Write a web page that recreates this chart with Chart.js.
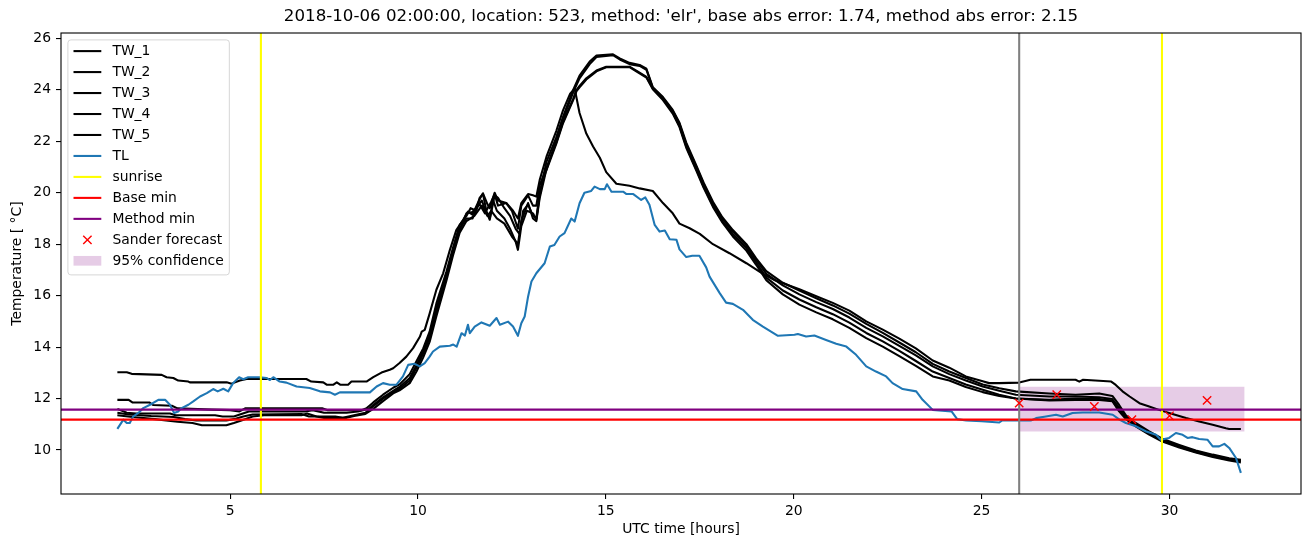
<!DOCTYPE html>
<html>
<head>
<meta charset="utf-8">
<script src="https://cdn.jsdelivr.net/npm/chart.js@4.4.0/dist/chart.umd.min.js"></script>
<style>
  html, body { margin: 0; padding: 0; background: #fff; }
  canvas { display: block; }
</style>
</head>
<body>
<canvas id="graph" width="1311" height="547"></canvas>
<script>
// ---------- values ----------
const chartTitle = "2018-10-06 02:00:00, location: 523, method: 'elr', base abs error: 1.74, method abs error: 2.15";

const xTicks = [5, 10, 15, 20, 25, 30];
const yTicks = [10, 12, 14, 16, 18, 20, 22, 24, 26];

// TW_1
const tw1Hours = [
  2.0, 2.25, 2.38, 3.18, 3.31, 3.49, 3.62, 3.89, 3.93, 4.91,
  5.04, 5.26, 5.44, 7.03, 7.16, 7.48, 7.57, 7.75, 7.84, 7.93,
  8.14, 8.23, 8.63, 8.81, 9.03, 9.25, 9.34, 9.51, 9.69, 9.87,
  10.05, 10.1, 10.18, 10.31, 10.49, 10.67, 10.85, 11.02, 11.2, 11.33,
  11.45, 11.64, 11.73, 11.85, 11.91, 12.04, 12.13, 12.35, 12.53, 12.66,
  12.75, 12.93, 13.06, 13.15, 13.24, 13.42, 13.68, 13.86, 14.05, 14.17,
  14.3, 14.48, 14.66, 14.84, 15.01, 15.28, 15.63, 15.9, 16.25, 16.52,
  16.78, 16.96, 17.23, 17.5, 17.85, 18.29, 18.74, 19.18, 19.5, 20.15,
  20.6, 21.04, 21.48, 21.93, 22.37, 22.81, 23.25, 23.7, 24.14, 24.58,
  25.03, 25.2, 25.47, 26.0, 26.3, 27.5, 27.6, 27.7, 28.45, 28.57,
  28.75, 28.94, 29.2, 29.46, 29.72, 30.08, 30.44, 30.79, 31.15, 31.5,
  31.59, 31.9
];
const tw1Temp = [
  13.02, 13.02, 12.96, 12.92, 12.83, 12.8, 12.7, 12.66, 12.63, 12.63,
  12.58, 12.7, 12.76, 12.76, 12.66, 12.63, 12.54, 12.54, 12.63, 12.54,
  12.54, 12.66, 12.66, 12.83, 13.01, 13.12, 13.18, 13.38, 13.63, 13.96,
  14.4, 14.6, 14.67, 15.3, 16.23, 16.87, 17.78, 18.55, 18.94, 19.27,
  19.15, 19.75, 19.98, 19.55, 19.4, 20.0, 19.7, 19.6, 19.3, 19.0,
  19.6, 19.95, 19.9, 19.85, 20.5, 21.4, 22.4, 23.2, 23.85, 24.05,
  23.1, 22.3, 21.8, 21.36, 20.8, 20.35, 20.27, 20.17, 20.07, 19.6,
  19.2, 18.8, 18.62, 18.4, 18.0, 17.65, 17.26, 16.85, 16.6, 16.25,
  15.98, 15.72, 15.42, 15.0, 14.68, 14.33, 13.95, 13.48, 13.2, 12.86,
  12.67, 12.6, 12.6, 12.62, 12.73, 12.73, 12.66, 12.73, 12.66, 12.53,
  12.28, 12.08, 11.82, 11.69, 11.56, 11.4, 11.24, 11.11, 10.98, 10.85,
  10.82, 10.82
];

// TW_2
const tw2Hours = [
  2.0, 2.3, 2.4, 2.85, 2.95, 3.45, 3.6, 4.5, 5.0, 5.25,
  5.4, 7.45, 7.6, 8.5, 8.63, 8.81, 9.07, 9.34, 9.51, 9.78,
  9.96, 10.14, 10.31, 10.49, 10.76, 10.93, 11.11, 11.29, 11.4, 11.55,
  11.64, 11.73, 11.82, 11.91, 12.04, 12.13, 12.3, 12.45, 12.6, 12.7,
  12.8, 12.93, 13.06, 13.15, 13.24, 13.42, 13.68, 13.86, 14.13, 14.3,
  14.57, 14.75, 15.19, 15.37, 15.63, 15.9, 16.08, 16.25, 16.52, 16.78,
  16.96, 17.14, 17.41, 17.6, 17.85, 18.1, 18.38, 18.74, 19.0, 19.27,
  19.71, 20.15, 20.6, 21.04, 21.48, 21.93, 22.37, 22.81, 23.25, 23.7,
  24.14, 24.58, 25.03, 25.47, 25.91, 26.8, 27.5, 28.13, 28.48, 28.66,
  28.84, 29.1, 29.46, 29.81, 30.26, 30.7, 31.15, 31.59, 31.9
];
const tw2Temp = [
  11.95, 11.95, 11.85, 11.85, 11.75, 11.72, 11.62, 11.57, 11.55, 11.5,
  11.62, 11.62, 11.55, 11.55, 11.62, 11.85, 12.15, 12.42, 12.55, 12.95,
  13.45, 13.95, 14.6, 15.7, 16.95, 17.85, 18.75, 19.1, 19.4, 19.3,
  19.8, 19.95, 19.3, 18.95, 19.9, 19.8, 19.4, 19.1, 18.6, 18.4,
  19.3, 19.55, 19.1, 19.0, 20.0, 21.2, 22.15, 22.95, 24.0, 24.55,
  25.1, 25.33, 25.38, 25.22, 25.05, 24.97, 24.82, 24.1, 23.72, 23.22,
  22.72, 21.95, 21.05, 20.4, 19.65, 19.05, 18.55, 18.0, 17.45, 16.95,
  16.5, 16.2, 15.9, 15.62, 15.3, 14.9, 14.55, 14.18, 13.8, 13.35,
  13.05, 12.8, 12.55, 12.4, 12.28, 12.2, 12.15, 12.2, 12.1, 11.75,
  11.35, 11.05, 10.72, 10.44, 10.2, 9.98, 9.82, 9.68, 9.62
];

// TW_3
const tw3Hours = [
  2.0, 2.25, 2.5, 3.4, 3.55, 4.6, 4.8, 5.1, 5.3, 5.5,
  7.0, 7.2, 7.5, 8.1, 8.4, 8.7, 8.81, 9.07, 9.34, 9.51,
  9.78, 9.96, 10.14, 10.31, 10.49, 10.76, 10.93, 11.11, 11.29, 11.45,
  11.6, 11.7, 11.82, 11.91, 12.0, 12.1, 12.3, 12.45, 12.6, 12.66,
  12.75, 12.9, 13.06, 13.15, 13.24, 13.35, 13.68, 13.86, 14.13, 14.3,
  14.57, 14.75, 15.19, 15.37, 15.63, 15.9, 16.08, 16.25, 16.52, 16.78,
  16.96, 17.14, 17.41, 17.6, 17.85, 18.1, 18.38, 18.74, 19.0, 19.27,
  19.71, 20.15, 20.6, 21.04, 21.48, 21.93, 22.37, 22.81, 23.25, 23.7,
  24.14, 24.58, 25.03, 25.47, 25.91, 26.8, 27.5, 28.13, 28.48, 28.66,
  28.84, 29.1, 29.46, 29.81, 30.26, 30.7, 31.15, 31.59, 31.9
];
const tw3Temp = [
  11.6, 11.45, 11.42, 11.42, 11.35, 11.35, 11.3, 11.3, 11.4, 11.5,
  11.5, 11.55, 11.45, 11.45, 11.5, 11.6, 11.75, 12.05, 12.3, 12.45,
  12.8, 13.3, 13.85, 14.45, 15.5, 16.8, 17.7, 18.6, 19.0, 19.0,
  19.5, 19.7, 19.2, 19.0, 19.7, 19.3, 19.0, 18.6, 18.1, 17.78,
  18.7, 19.3, 19.2, 18.95, 19.9, 20.6, 22.05, 22.85, 23.9, 24.45,
  25.0, 25.28, 25.35, 25.18, 25.0, 24.93, 24.78, 24.08, 23.68, 23.18,
  22.68, 21.88, 21.0, 20.35, 19.6, 19.0, 18.5, 17.95, 17.4, 16.85,
  16.4, 16.05, 15.75, 15.48, 15.15, 14.75, 14.42, 14.05, 13.68, 13.25,
  12.95, 12.7, 12.47, 12.3, 12.15, 12.08, 12.08, 12.05, 11.98, 11.65,
  11.3, 11.0, 10.68, 10.4, 10.16, 9.95, 9.79, 9.65, 9.6
];

// TW_4
const tw4Hours = [
  2.0, 2.3, 2.9, 3.5, 3.8, 4.1, 4.9, 5.1, 5.35, 5.6,
  6.9, 7.1, 7.8, 8.0, 8.3, 8.6, 8.81, 9.07, 9.34, 9.51,
  9.78, 9.96, 10.14, 10.31, 10.49, 10.76, 10.93, 11.11, 11.29, 11.45,
  11.64, 11.78, 11.95, 12.04, 12.13, 12.35, 12.5, 12.66, 12.75, 12.93,
  13.06, 13.15, 13.24, 13.35, 13.68, 13.86, 14.13, 14.22, 14.3, 14.48,
  14.75, 15.01, 15.63, 15.81, 16.08, 16.25, 16.52, 16.78, 16.96, 17.14,
  17.41, 17.6, 17.85, 18.1, 18.38, 18.74, 19.0, 19.27, 19.71, 20.15,
  20.6, 21.04, 21.48, 21.93, 22.37, 22.81, 23.25, 23.7, 24.14, 24.58,
  25.03, 25.47, 25.91, 26.8, 27.5, 28.13, 28.48, 28.66, 28.84, 29.1,
  29.46, 29.81, 30.26, 30.7, 31.15, 31.59, 31.9
];
const tw4Temp = [
  11.45, 11.38, 11.32, 11.28, 11.2, 11.15, 11.15, 11.2, 11.3, 11.38,
  11.4, 11.3, 11.3, 11.25, 11.35, 11.45, 11.7, 12.0, 12.25, 12.38,
  12.7, 13.2, 13.75, 14.35, 15.4, 16.75, 17.65, 18.55, 19.2, 19.25,
  19.55, 19.2, 19.65, 19.95, 19.5, 19.6, 19.3, 18.6, 19.5, 19.9,
  19.5, 19.5, 20.3, 20.7, 21.95, 22.75, 23.65, 24.0, 24.15, 24.45,
  24.75, 24.9, 24.9, 24.75, 24.5, 24.05, 23.65, 23.12, 22.6, 21.8,
  20.9, 20.25, 19.5, 18.9, 18.4, 17.85, 17.3, 16.7, 16.2, 15.85,
  15.55, 15.28, 14.95, 14.55, 14.22, 13.85, 13.46, 13.05, 12.8, 12.55,
  12.34, 12.15, 12.0, 11.95, 12.0, 11.98, 11.92, 11.55, 11.25, 10.95,
  10.64, 10.36, 10.13, 9.92, 9.76, 9.62, 9.56
];

// TW_5
const tw5Hours = [
  2.0, 2.4, 3.0, 3.6, 4.0, 4.25, 4.9, 5.1, 5.3, 5.6,
  5.9, 6.9, 7.05, 7.3, 7.5, 8.1, 8.3, 8.6, 8.81, 9.07,
  9.34, 9.51, 9.78, 9.96, 10.14, 10.31, 10.49, 10.76, 10.93, 11.11,
  11.29, 11.5, 11.7, 11.85, 11.95, 12.1, 12.3, 12.5, 12.66, 12.75,
  12.93, 13.06, 13.15, 13.24, 13.4, 13.68, 13.86, 14.13, 14.22, 14.3,
  14.48, 14.75, 15.01, 15.63, 15.81, 16.08, 16.25, 16.52, 16.78, 16.96,
  17.14, 17.41, 17.6, 17.85, 18.1, 18.38, 18.74, 19.0, 19.27, 19.71,
  20.15, 20.6, 21.04, 21.48, 21.93, 22.37, 22.81, 23.25, 23.7, 24.14,
  24.58, 25.03, 25.47, 25.91, 26.8, 27.5, 28.13, 28.48, 28.66, 28.84,
  29.1, 29.46, 29.81, 30.26, 30.7, 31.15, 31.59, 31.9
];
const tw5Temp = [
  11.35, 11.28, 11.2, 11.1, 11.05, 10.96, 10.96, 11.05, 11.15, 11.3,
  11.35, 11.35, 11.42, 11.3, 11.25, 11.25, 11.32, 11.4, 11.6, 11.9,
  12.2, 12.32, 12.6, 13.05, 13.6, 14.2, 15.2, 16.6, 17.55, 18.45,
  18.9, 19.1, 19.5, 19.1, 19.3, 19.0, 18.8, 18.3, 18.0, 18.9,
  19.6, 19.0, 18.9, 19.8, 20.8, 21.9, 22.7, 23.6, 23.95, 24.1,
  24.4, 24.72, 24.88, 24.88, 24.72, 24.48, 24.02, 23.6, 23.08, 22.55,
  21.75, 20.85, 20.2, 19.45, 18.85, 18.3, 17.75, 17.2, 16.6, 16.05,
  15.65, 15.35, 15.08, 14.75, 14.35, 14.02, 13.65, 13.27, 12.86, 12.7,
  12.45, 12.25, 12.1, 12.0, 11.93, 11.95, 11.95, 11.9, 11.5, 11.2,
  10.92, 10.6, 10.33, 10.1, 9.9, 9.73, 9.59, 9.52
];

// TL (air temperature)
const tlHours = [
  2.0, 2.16, 2.25, 2.33, 2.42, 2.56, 2.69, 2.87, 3.09, 3.27,
  3.4, 3.51, 3.62, 3.71, 3.89, 4.02, 4.2, 4.38, 4.55, 4.67,
  4.82, 4.95, 5.08, 5.24, 5.35, 5.48, 5.79, 5.97, 6.06, 6.15,
  6.32, 6.5, 6.77, 7.12, 7.39, 7.66, 7.79, 7.92, 8.72, 8.9,
  9.07, 9.25, 9.43, 9.6, 9.74, 9.91, 10.05, 10.18, 10.31, 10.4,
  10.58, 10.85, 10.94, 11.03, 11.16, 11.25, 11.33, 11.38, 11.51, 11.69,
  11.91, 12.09, 12.18, 12.4, 12.53, 12.66, 12.75, 12.84, 12.93, 13.02,
  13.15, 13.37, 13.51, 13.63, 13.77, 13.9, 14.08, 14.17, 14.3, 14.43,
  14.61, 14.7, 14.84, 14.97, 15.03, 15.15, 15.46, 15.55, 15.73, 15.94,
  16.05, 16.16, 16.3, 16.43, 16.57, 16.7, 16.88, 16.96, 17.14, 17.3,
  17.49, 17.67, 17.76, 18.03, 18.2, 18.38, 18.65, 18.91, 19.18, 19.58,
  20.02, 20.11, 20.33, 20.55, 20.86, 21.13, 21.4, 21.66, 21.93, 22.19,
  22.46, 22.63, 22.9, 23.26, 23.43, 23.7, 24.2, 24.35, 24.59, 25.0,
  25.47, 25.55, 26.32, 26.45, 26.71, 26.98, 27.16, 27.42, 27.69, 28.13,
  28.49, 28.67, 28.84, 29.11, 29.38, 29.64, 29.77, 29.99, 30.17, 30.35,
  30.48, 30.61, 30.79, 31.01, 31.15, 31.32, 31.46, 31.59, 31.77, 31.9
];
const tlTemp = [
  10.82, 11.18, 11.05, 11.05, 11.3, 11.44, 11.63, 11.76, 11.95, 11.95,
  11.76, 11.44, 11.5, 11.63, 11.76, 11.89, 12.08, 12.21, 12.37, 12.28,
  12.38, 12.28, 12.6, 12.83, 12.75, 12.83, 12.83, 12.8, 12.72, 12.83,
  12.66, 12.62, 12.47, 12.41, 12.28, 12.24, 12.15, 12.24, 12.24, 12.47,
  12.6, 12.54, 12.54, 12.86, 13.31, 13.35, 13.25, 13.38, 13.63, 13.83,
  14.02, 14.05, 14.1, 14.02, 14.54, 14.45, 14.87, 14.54, 14.8, 14.96,
  14.83, 15.13, 14.87, 14.99, 14.8, 14.44, 14.93, 15.19, 15.96, 16.55,
  16.87, 17.26, 17.91, 17.97, 18.3, 18.43, 19.0, 18.88, 19.59, 20.0,
  20.07, 20.24, 20.14, 20.14, 20.33, 20.04, 20.04, 19.95, 19.95, 19.72,
  19.82, 19.53, 18.75, 18.49, 18.53, 18.19, 18.17, 17.8, 17.5, 17.55,
  17.55, 17.1, 16.74, 16.1, 15.73, 15.68, 15.45, 15.06, 14.8, 14.44,
  14.48, 14.51, 14.41, 14.45, 14.28, 14.13, 14.02, 13.7, 13.25, 13.05,
  12.86, 12.6, 12.37, 12.28, 11.95, 11.56, 11.5, 11.2, 11.15, 11.12,
  11.07, 11.15, 11.15, 11.24, 11.3, 11.37, 11.3, 11.44, 11.46, 11.46,
  11.37, 11.18, 11.05, 10.92, 10.72, 10.59, 10.4, 10.47, 10.66, 10.59,
  10.47, 10.5, 10.43, 10.4, 10.14, 10.14, 10.24, 10.08, 9.69, 9.11
];

const sunriseHours = [5.82, 29.8];
const baseMin = 11.18;
const methodMin = 11.57;
const forecastHour = 26;
const sanderHours = [26, 27, 28, 29, 30, 31];
const sanderTemp = [11.82, 12.15, 11.69, 11.18, 11.33, 11.93];
const confHours = [26, 32];
const confHigh = 12.46;
const confLow = 10.72;

// ---------- axes limits (matplotlib auto margins) ----------
const X_MIN = 0.5, X_MAX = 33.5;
const Y_MIN = 8.29, Y_MAX = 26.21;

const FONT = "'DejaVu Sans', sans-serif";
const LW = 2.08;
const TL_COLOR = '#1f77b4';
const CONF_COLOR = 'rgba(128, 0, 128, 0.2)';

Chart.defaults.font.family = FONT;
Chart.defaults.color = '#000';

function pts(hours, temps) {
  return hours.map((h, i) => ({x: h, y: temps[i]}));
}
function line(label, data, color) {
  return {label: label, data: data, borderColor: color, borderWidth: LW,
          pointRadius: 0, fill: false, tension: 0, borderJoinStyle: 'round'};
}

const datasets = [];
// shaded band first: it sits under everything
datasets.push({label: '95% confidence', data: confHours.map(h => ({x: h, y: confHigh})),
  borderWidth: 0, pointRadius: 0, fill: '+1', backgroundColor: CONF_COLOR});
datasets.push({label: 'conf low', data: confHours.map(h => ({x: h, y: confLow})),
  borderWidth: 0, pointRadius: 0, fill: false});

const twSeries = [[tw1Hours, tw1Temp], [tw2Hours, tw2Temp], [tw3Hours, tw3Temp], [tw4Hours, tw4Temp], [tw5Hours, tw5Temp]];
twSeries.forEach((s, i) => datasets.push(line('TW_' + (i + 1), pts(s[0], s[1]), '#000000')));
datasets.push(line('TL', pts(tlHours, tlTemp), TL_COLOR));

const sunriseData = [];
sunriseHours.forEach((h, i) => {
  if (i > 0) sunriseData.push({x: h, y: null});
  sunriseData.push({x: h, y: Y_MIN}, {x: h, y: Y_MAX});
});
datasets.push(line('sunrise', sunriseData, '#ffff00'));
datasets.push(line('Base min', [{x: X_MIN, y: baseMin}, {x: X_MAX, y: baseMin}], '#ff0000'));
datasets.push(line('Method min', [{x: X_MIN, y: methodMin}, {x: X_MAX, y: methodMin}], '#800080'));
datasets.push(line('forecast', [{x: forecastHour, y: Y_MIN}, {x: forecastHour, y: Y_MAX}], '#808080'));
datasets.push({label: 'Sander forecast', data: pts(sanderHours, sanderTemp), showLine: false,
  pointStyle: 'crossRot', pointRadius: 5.9, borderColor: '#ff0000', borderWidth: 1.4,
  backgroundColor: '#ff0000'});

// later datasets on top, like matplotlib
datasets.forEach((d, i) => { d.order = datasets.length - i; });

const legendItems = [
  {label: 'TW_1', kind: 'line', color: '#000000'},
  {label: 'TW_2', kind: 'line', color: '#000000'},
  {label: 'TW_3', kind: 'line', color: '#000000'},
  {label: 'TW_4', kind: 'line', color: '#000000'},
  {label: 'TW_5', kind: 'line', color: '#000000'},
  {label: 'TL', kind: 'line', color: TL_COLOR},
  {label: 'sunrise', kind: 'line', color: '#ffff00'},
  {label: 'Base min', kind: 'line', color: '#ff0000'},
  {label: 'Method min', kind: 'line', color: '#800080'},
  {label: 'Sander forecast', kind: 'cross', color: '#ff0000'},
  {label: '95% confidence', kind: 'patch', color: CONF_COLOR}
];

// frame round the axes (all four spines)
const spines = {
  id: 'spines',
  afterDatasetsDraw(chart) {
    const a = chart.chartArea, ctx = chart.ctx;
    ctx.save();
    ctx.strokeStyle = '#000';
    ctx.lineWidth = 1.1;
    ctx.strokeRect(a.left, a.top, a.right - a.left, a.bottom - a.top);
    ctx.restore();
  }
};

// matplotlib-like legend box, upper left
const mplLegend = {
  id: 'mplLegend',
  afterDraw(chart) {
    const a = chart.chartArea, ctx = chart.ctx;
    const fs = 13.9, rowH = 20.97;
    ctx.save();
    ctx.font = fs + 'px ' + FONT;
    let maxW = 0;
    legendItems.forEach(it => { maxW = Math.max(maxW, ctx.measureText(it.label).width); });
    const left = a.left + 6.9, top = a.top + 6.9;
    const w = 44.5 + maxW + 5.6;
    const h = 11.2 + rowH * (legendItems.length - 1) + 14.1;

    ctx.beginPath();
    ctx.roundRect(left, top, w, h, 3);
    ctx.fillStyle = 'rgba(255,255,255,0.8)';
    ctx.fill();
    ctx.strokeStyle = 'rgba(204,204,204,0.8)';
    ctx.lineWidth = 1;
    ctx.stroke();

    const hx0 = left + 5.6, hx1 = hx0 + 27.8, tx = hx1 + 11.1;
    legendItems.forEach((it, i) => {
      const cy = top + 11.2 + i * rowH;
      if (it.kind === 'line') {
        ctx.beginPath();
        ctx.moveTo(hx0, cy);
        ctx.lineTo(hx1, cy);
        ctx.strokeStyle = it.color;
        ctx.lineWidth = LW;
        ctx.stroke();
      } else if (it.kind === 'cross') {
        const cx = (hx0 + hx1) / 2, d = 4.17;
        ctx.beginPath();
        ctx.moveTo(cx - d, cy - d); ctx.lineTo(cx + d, cy + d);
        ctx.moveTo(cx - d, cy + d); ctx.lineTo(cx + d, cy - d);
        ctx.strokeStyle = it.color;
        ctx.lineWidth = 1.4;
        ctx.stroke();
      } else {
        ctx.fillStyle = it.color;
        ctx.fillRect(hx0, cy - 4.85, hx1 - hx0, 9.7);
      }
      ctx.fillStyle = '#000';
      ctx.textAlign = 'left';
      ctx.textBaseline = 'middle';
      ctx.fillText(it.label, tx, cy + 0.5);
    });
    ctx.restore();
  }
};

const ctx = document.getElementById('graph').getContext('2d');
const chart = new Chart(ctx, {
  type: 'line',
  data: {datasets: datasets},
  plugins: [spines, mplLegend],
  options: {
    responsive: false,
    animation: false,
    devicePixelRatio: 1,
    parsing: true,
    layout: {padding: {top: 0, right: 10, bottom: 0, left: 0}},
    plugins: {
      legend: {display: false},
      tooltip: {enabled: false},
      title: {
        display: true,
        text: chartTitle,
        fullSize: false,
        color: '#000',
        font: {family: FONT, size: 16.67, weight: 'normal', lineHeight: 1.2},
        padding: {top: 7, bottom: 6}
      }
    },
    scales: {
      x: {
        type: 'linear',
        min: X_MIN,
        max: X_MAX,
        afterFit: s => { s.height = 53; },
        afterBuildTicks: s => { s.ticks = xTicks.map(v => ({value: v})); },
        ticks: {color: '#000', font: {size: 13.9}, padding: 4, autoSkip: false, maxRotation: 0},
        grid: {drawOnChartArea: false, drawTicks: true, tickLength: 5, color: '#000', lineWidth: 1.1},
        border: {display: false},
        title: {display: true, text: 'UTC time [hours]', color: '#000',
                font: {size: 13.9}, padding: {top: 0, bottom: 9.5}}
      },
      y: {
        type: 'linear',
        min: Y_MIN,
        max: Y_MAX,
        afterFit: s => { s.width = 61; },
        afterBuildTicks: s => { s.ticks = yTicks.map(v => ({value: v})); },
        ticks: {color: '#000', font: {size: 13.9}, padding: 5, autoSkip: false},
        grid: {drawOnChartArea: false, drawTicks: true, tickLength: 5, color: '#000', lineWidth: 1.1},
        border: {display: false},
        title: {display: true, text: 'Temperature [ °C]', color: '#000',
                font: {size: 13.9}, padding: {top: 9, bottom: 0}}
      }
    }
  }
});
</script>
</body>
</html>
